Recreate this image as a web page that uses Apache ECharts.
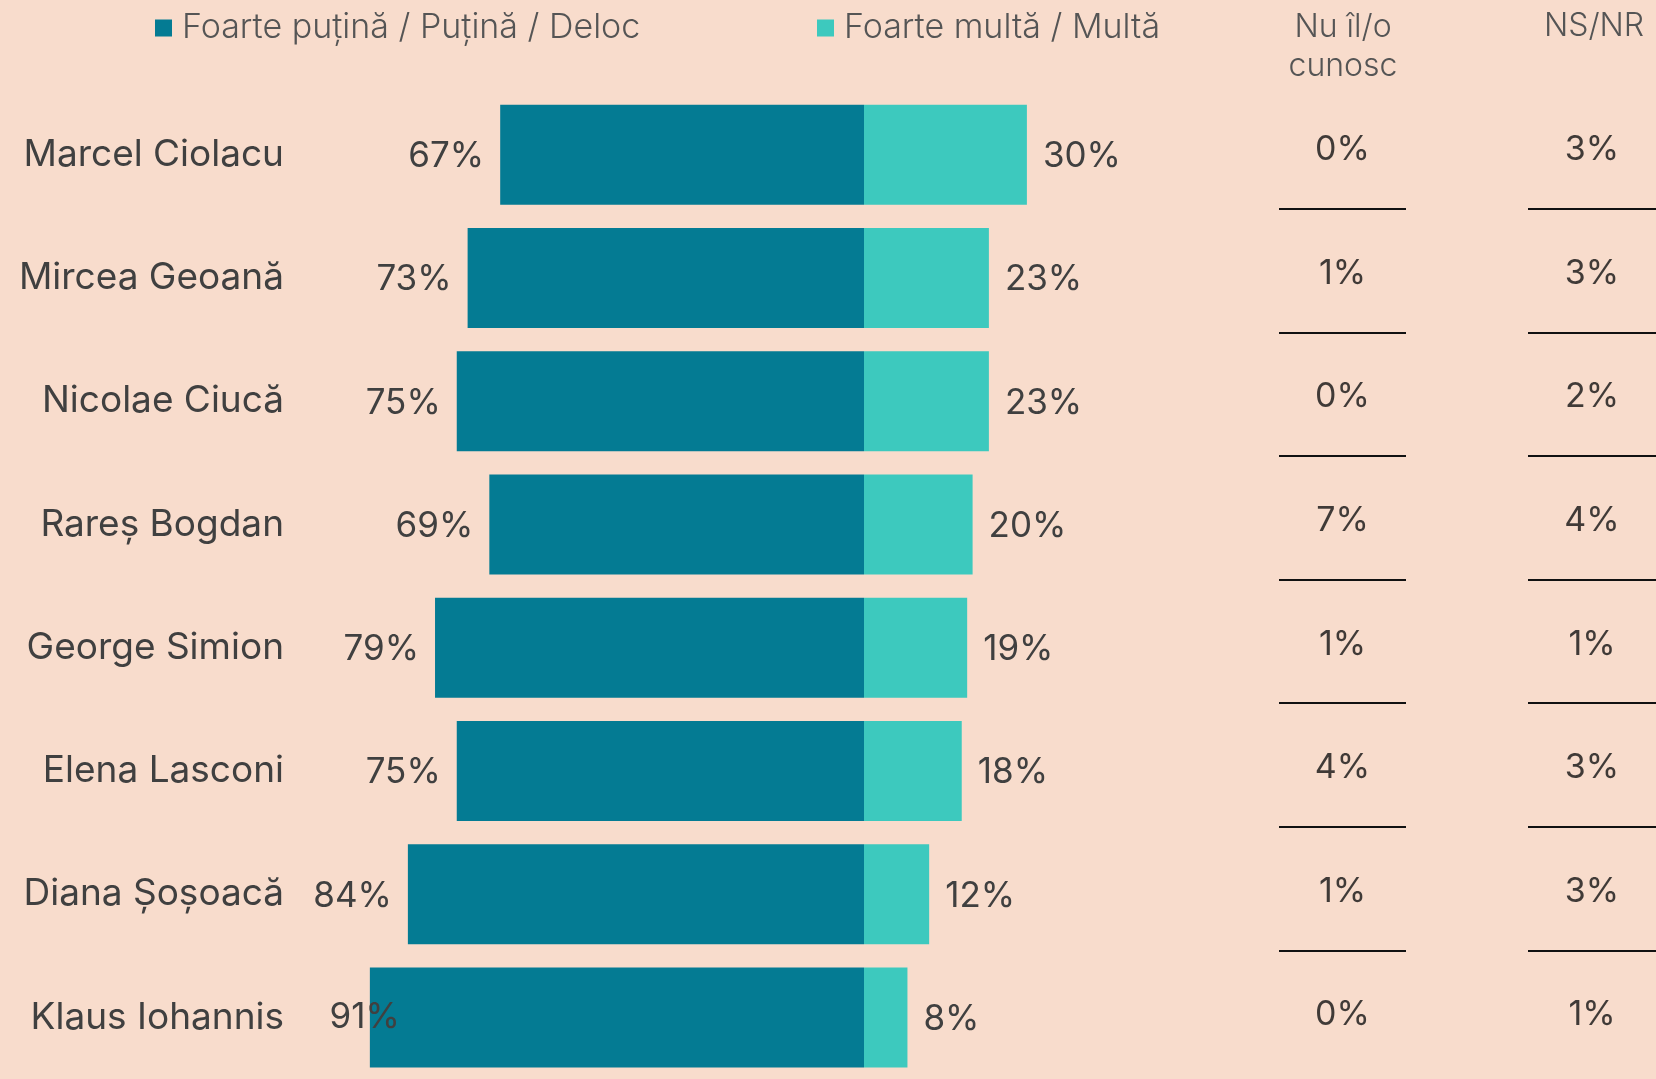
<!DOCTYPE html>
<html>
<head>
<meta charset="utf-8">
<script src="https://cdn.jsdelivr.net/npm/echarts@6/dist/echarts.min.js"></script>
<style>
  html, body { margin: 0; padding: 0; background: #f8dccc; }
  #main { width: 1656px; height: 1079px; }
</style>
</head>
<body>
<div id="main"></div>
<script>
// date din imagine
var names = ['Marcel Ciolacu', 'Mircea Geoană', 'Nicolae Ciucă', 'Rareș Bogdan',
             'George Simion', 'Elena Lasconi', 'Diana Șoșoacă', 'Klaus Iohannis'];
var putina = [67, 73, 75, 69, 79, 75, 84, 91];   // Foarte puțină / Puțină / Deloc
var multa = [30, 23, 23, 20, 19, 18, 12, 8];      // Foarte multă / Multă
var nuCunosc = [0, 1, 0, 7, 1, 4, 1, 0];
var nsnr = [3, 3, 2, 4, 1, 3, 3, 1];

var myChart = echarts.init(document.getElementById('main'));

var mainFont = 'Inter';
var thinFont = 'Inter';
var textGray = '#404040';

// coloane din dreapta: scatter fara simbol, doar eticheta
function colData(arr) {
    return arr.map(function (v, i) { return [0, i]; });
}

function colAxis(gridIdx) {
    return {
        type: 'category',
        gridIndex: gridIdx,
        inverse: true,
        data: names,
        axisLine: { show: false },
        axisTick: { show: false },
        axisLabel: { show: false },
        splitLine: {
            show: true,
            showMinLine: false,
            showMaxLine: false,
            lineStyle: { color: '#111', width: 2 }
        }
    };
}

option = {
    backgroundColor: '#f8dccc',
    animation: false,
    legend: [
        {
            data: ['Foarte puțină / Puțină / Deloc'],
            left: 155, top: 11, padding: 0,
            icon: 'rect', itemWidth: 17, itemHeight: 17,
            textStyle: { fontFamily: thinFont, fontWeight: 300, fontSize: 34, color: '#555', padding: [0, 0, 0, 5] }
        },
        {
            data: ['Foarte multă / Multă'],
            left: 817, top: 11, padding: 0,
            icon: 'rect', itemWidth: 17, itemHeight: 17,
            textStyle: { fontFamily: thinFont, fontWeight: 300, fontSize: 34, color: '#555', padding: [0, 0, 0, 5] }
        }
    ],
    graphic: [
        {
            type: 'text', x: 1343, y: 47,
            style: {
                text: 'Nu îl/o\ncunosc', align: 'center', verticalAlign: 'middle',
                font: '300 32px Inter', fill: '#555', lineHeight: 39
            }
        },
        {
            type: 'text', x: 1594, y: 26,
            style: {
                text: 'NS/NR', align: 'center', verticalAlign: 'middle',
                font: '300 32px Inter', fill: '#555'
            }
        }
    ],
    grid: [
        { left: 321, width: 1086, top: 93, height: 989 },
        { left: 1279, width: 127, top: 85, height: 989 },
        { left: 1528, width: 128, top: 85, height: 989 }
    ],
    xAxis: [
        { type: 'value', gridIndex: 0, min: -100, max: 100, show: false },
        { type: 'value', gridIndex: 1, min: -1, max: 1, show: false },
        { type: 'value', gridIndex: 2, min: -1, max: 1, show: false }
    ],
    yAxis: [
        {
            type: 'category',
            gridIndex: 0,
            inverse: true,
            data: names,
            axisLine: { show: false },
            axisTick: { show: false },
            splitLine: { show: false },
            axisLabel: {
                margin: 37,
                fontFamily: mainFont,
                fontSize: 37,
                color: textGray
            }
        },
        colAxis(1),
        colAxis(2)
    ],
    series: [
        {
            name: 'Foarte puțină / Puțină / Deloc',
            type: 'bar',
            barWidth: 100,
            barGap: '-100%',
            itemStyle: { color: '#047b93' },
            label: {
                show: true,
                position: 'left',
                distance: 16,
                offset: [0, 2],
                fontFamily: mainFont,
                fontSize: 35,
                color: textGray,
                formatter: function (p) { return Math.abs(p.value) + '%'; }
            },
            data: putina.map(function (v, i) {
                // ultima eticheta (91%) se suprapune peste bara
                if (i === putina.length - 1) {
                    return { value: -v, label: { distance: -30, offset: [0, 0] } };
                }
                return -v;
            })
        },
        {
            name: 'Foarte multă / Multă',
            type: 'bar',
            barWidth: 100,
            barGap: '-100%',
            itemStyle: { color: '#3dc9be' },
            label: {
                show: true,
                position: 'right',
                distance: 16,
                offset: [0, 2],
                fontFamily: mainFont,
                fontSize: 35,
                color: textGray,
                formatter: '{c}%'
            },
            data: multa
        },
        {
            name: 'Nu îl/o cunosc',
            type: 'scatter',
            xAxisIndex: 1,
            yAxisIndex: 1,
            symbolSize: 0,
            label: {
                show: true,
                position: 'inside',
                offset: [0, 3],
                fontFamily: mainFont,
                fontSize: 34,
                color: '#111',
                formatter: function (p) { return nuCunosc[p.dataIndex] + '%'; }
            },
            data: colData(nuCunosc)
        },
        {
            name: 'NS/NR',
            type: 'scatter',
            xAxisIndex: 2,
            yAxisIndex: 2,
            symbolSize: 0,
            label: {
                show: true,
                position: 'inside',
                offset: [0, 3],
                fontFamily: mainFont,
                fontSize: 34,
                color: '#111',
                formatter: function (p) { return nsnr[p.dataIndex] + '%'; }
            },
            data: colData(nsnr)
        }
    ]
};

myChart.setOption(option);
</script>
</body>
</html>
